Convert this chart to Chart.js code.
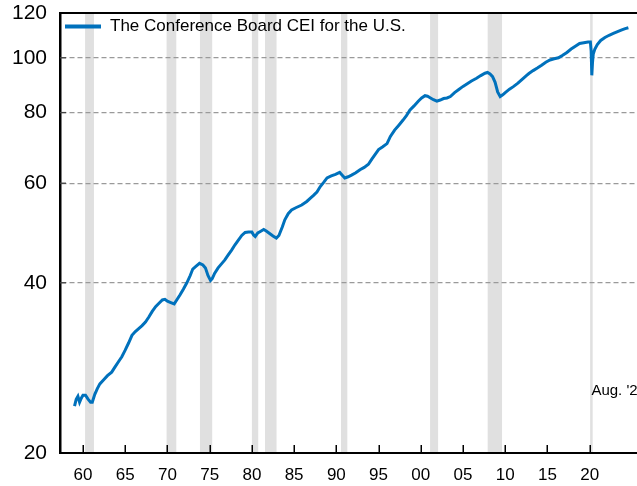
<!DOCTYPE html>
<html>
<head>
<meta charset="utf-8">
<script src="https://cdn.jsdelivr.net/npm/chart.js@4.4.1/dist/chart.umd.min.js"></script>
<style>
  html, body { margin: 0; padding: 0; background: #ffffff; overflow: hidden; }
  #wrap { width: 637px; height: 486px; }
</style>
</head>
<body>
<div id="wrap"><canvas id="c" width="637" height="486"></canvas></div>
<script>
// ---- Data ----
const seriesLabel = 'The Conference Board CEI for the U.S.';
const xYears = [
  1959.0, 1959.2, 1959.4, 1959.6, 1959.8, 1960.0, 1960.3, 1960.6, 1960.9, 1961.1,
  1961.4, 1961.7, 1962.0, 1962.4, 1962.9, 1963.4, 1963.8, 1964.2, 1964.6, 1965.0,
  1965.4, 1965.8, 1966.2, 1966.6, 1967.0, 1967.4, 1967.8, 1968.2, 1968.6, 1969.0,
  1969.4, 1969.7, 1970.0, 1970.4, 1970.8, 1971.1, 1971.5, 1971.9, 1972.3, 1972.7,
  1973.0, 1973.4, 1973.8, 1974.2, 1974.5, 1974.8, 1975.1, 1975.3, 1975.6, 1976.0,
  1976.4, 1976.8, 1977.2, 1977.6, 1978.0, 1978.4, 1978.8, 1979.2, 1979.6, 1980.0,
  1980.2, 1980.4, 1980.7, 1981.0, 1981.4, 1981.7, 1982.1, 1982.5, 1982.9, 1983.2,
  1983.6, 1983.9, 1984.3, 1984.7, 1985.2, 1985.9, 1986.5, 1986.9, 1987.3, 1987.7,
  1988.1, 1988.5, 1988.9, 1989.4, 1989.9, 1990.4, 1990.7, 1991.0, 1991.4, 1991.8,
  1992.3, 1992.8, 1993.3, 1993.8, 1994.2, 1994.6, 1995.0, 1995.5, 1996.0, 1996.4,
  1996.9, 1997.4, 1997.9, 1998.3, 1998.7, 1999.2, 1999.7, 2000.1, 2000.5, 2000.8,
  2001.1, 2001.5, 2001.9, 2002.3, 2002.7, 2003.1, 2003.5, 2004.0, 2004.5, 2005.0,
  2005.5, 2006.0, 2006.6, 2007.1, 2007.6, 2007.9, 2008.2, 2008.5, 2008.8, 2009.1,
  2009.4, 2009.7, 2010.0, 2010.5, 2011.0, 2011.5, 2012.0, 2012.5, 2012.8, 2013.3,
  2013.8, 2014.3, 2014.8, 2015.3, 2015.8, 2016.3, 2016.8, 2017.3, 2017.8, 2018.3,
  2018.8, 2019.3, 2019.8, 2020.08, 2020.17, 2020.25, 2020.33, 2020.42, 2020.6, 2020.9,
  2021.3, 2021.8, 2022.3, 2022.8, 2023.3, 2023.8, 2024.2, 2024.58
];
const ceiValues = [
  24.2, 24.9, 25.2, 24.6, 25.0, 25.3, 25.3, 24.9, 24.6, 24.6,
  25.4, 26.0, 26.5, 26.9, 27.4, 27.8, 28.4, 29.0, 29.6, 30.4,
  31.3, 32.3, 32.8, 33.2, 33.6, 34.1, 34.8, 35.6, 36.3, 36.8,
  37.3, 37.4, 37.1, 36.9, 36.7, 37.3, 38.1, 39.0, 40.0, 41.2,
  42.3, 42.8, 43.3, 43.0, 42.5, 41.2, 40.4, 40.7, 41.6, 42.5,
  43.2, 43.9, 44.8, 45.7, 46.7, 47.6, 48.5, 49.1, 49.2, 49.2,
  48.6, 48.3, 49.0, 49.3, 49.7, 49.4, 48.9, 48.4, 48.0, 48.5,
  50.2, 51.7, 53.0, 53.8, 54.3, 54.9, 55.7, 56.4, 57.1, 57.9,
  59.2, 60.2, 61.3, 61.8, 62.2, 62.7, 62.0, 61.3, 61.6, 62.0,
  62.6, 63.4, 64.0, 64.8, 66.2, 67.5, 68.8, 69.6, 70.5, 72.6,
  74.5, 76.0, 77.6, 79.0, 80.8, 82.2, 83.8, 84.9, 85.7, 85.5,
  85.0, 84.3, 83.8, 84.2, 84.7, 84.9, 85.4, 86.8, 87.9, 89.0,
  90.0, 91.0, 92.0, 93.0, 93.9, 94.2, 93.6, 92.6, 90.5, 87.0,
  85.4, 86.0, 86.8, 88.0, 89.0, 90.2, 91.6, 93.0, 93.8, 94.9,
  95.9, 97.0, 98.2, 99.1, 99.6, 100.0, 101.0, 102.2, 103.6, 104.8,
  106.0, 106.3, 106.6, 106.6, 103.0, 93.1, 98.0, 101.5, 103.5, 105.5,
  107.3, 108.6, 109.6, 110.4, 111.2, 112.0, 112.6, 113.0
];
// Recession shading (decimal years)
const recessionStarts = [1960.25, 1969.9, 1973.85, 1980.0, 1981.55, 1990.55, 2001.1, 2007.92, 2020.05];
const recessionEnds   = [1961.3, 1971.05, 1975.3, 1980.75, 1982.92, 1991.3, 2002.05, 2009.62, 2020.35];
// Axis ticks
const xTickYears  = [1960, 1965, 1970, 1975, 1980, 1985, 1990, 1995, 2000, 2005, 2010, 2015, 2020];
const xTickLabels = ['60', '65', '70', '75', '80', '85', '90', '95', '00', '05', '10', '15', '20'];
const yTickValues = [20, 40, 60, 80, 100, 120];
// Note text
const noteText = "Aug. '24";
const noteX = 2020.2;
const noteY = 25.8;

// ---- Styling ----
const FONT = '"Liberation Sans", Arial, Helvetica, sans-serif';
const lineColor = '#0071bc';

const decorPlugin = {
  id: 'decor',
  beforeDraw(chart) {
    const { ctx, chartArea: a, scales: { x } } = chart;
    ctx.save();
    ctx.fillStyle = '#e0e0e0';
    recessionStarts.forEach((s, i) => {
      const x1 = x.getPixelForValue(s);
      const x2 = x.getPixelForValue(recessionEnds[i]);
      ctx.fillRect(x1, a.top, x2 - x1, a.bottom - a.top);
    });
    ctx.restore();
  },
  afterDraw(chart) {
    const { ctx, chartArea: a, scales: { x, y } } = chart;
    ctx.save();
    // top frame line
    ctx.strokeStyle = '#000';
    ctx.lineWidth = 2;
    ctx.beginPath();
    ctx.moveTo(a.left - 1, a.top);
    ctx.lineTo(a.right, a.top);
    ctx.stroke();
    // inner ticks on x axis
    ctx.lineWidth = 1.5;
    x.ticks.forEach(t => {
      const px = Math.round(x.getPixelForValue(t.value)) + 0.25;
      ctx.beginPath();
      ctx.moveTo(px, a.bottom);
      ctx.lineTo(px, a.bottom - 8);
      ctx.stroke();
    });
    // inner ticks on y axis
    ctx.strokeStyle = '#444';
    ctx.lineWidth = 1.3;
    y.ticks.forEach(t => {
      if (t.value === 20 || t.value === 120) return;
      const py = y.getPixelForValue(t.value);
      ctx.beginPath();
      ctx.moveTo(a.left, py);
      ctx.lineTo(a.left + 6, py);
      ctx.stroke();
    });
    // legend
    ctx.fillStyle = lineColor;
    ctx.fillRect(a.left + 5, a.top + 11.5, 36, 4);
    ctx.fillStyle = '#000';
    ctx.font = '17px ' + FONT;
    ctx.textBaseline = 'middle';
    ctx.textAlign = 'left';
    ctx.fillText(chart.data.datasets[0].label, a.left + 50, a.top + 13.5);
    // note
    ctx.font = '15px ' + FONT;
    ctx.fillText(noteText, x.getPixelForValue(noteX), y.getPixelForValue(noteY));
    ctx.restore();
  }
};

new Chart(document.getElementById('c'), {
  type: 'line',
  data: {
    datasets: [{
      label: seriesLabel,
      data: xYears.map((yr, i) => ({ x: yr, y: ceiValues[i] })),
      borderColor: lineColor,
      backgroundColor: lineColor,
      borderWidth: 3,
      pointRadius: 0,
      tension: 0,
      fill: false
    }]
  },
  options: {
    responsive: false,
    animation: false,
    devicePixelRatio: 1,
    layout: { padding: { left: 0, top: 13, right: 0, bottom: 0 } },
    plugins: {
      legend: { display: false },
      tooltip: { enabled: false }
    },
    scales: {
      x: {
        type: 'linear',
        min: 1957.28,
        max: 2025.6,
        afterBuildTicks(scale) { scale.ticks = xTickYears.map(v => ({ value: v })); },
        afterFit(scale) { scale.height = 33; scale.paddingLeft = 0; scale.paddingRight = 0; },
        ticks: {
          autoSkip: false,
          maxRotation: 0,
          padding: 12,
          color: '#000',
          font: { family: FONT, size: 17 },
          callback(value) {
            const i = xTickYears.indexOf(value);
            return i >= 0 ? xTickLabels[i] : '';
          }
        },
        grid: { display: true, drawOnChartArea: false, drawTicks: false },
        border: { display: true, color: '#000', width: 2 }
      },
      y: {
        type: 'logarithmic',
        min: 20,
        max: 120,
        afterBuildTicks(scale) { scale.ticks = yTickValues.map(v => ({ value: v })); },
        afterFit(scale) { scale.width = 60; scale.paddingTop = 0; scale.paddingBottom = 0; },
        ticks: {
          padding: 13,
          color: '#000',
          font: { family: FONT, size: 21 },
          callback(value) { return String(value); }
        },
        grid: {
          drawTicks: false,
          lineWidth: 1.3,
          color(ctx) {
            const v = ctx.tick && ctx.tick.value;
            return (v === 20 || v === 120) ? 'rgba(0,0,0,0)' : '#9a9a9a';
          }
        },
        border: { display: true, color: '#000', width: 2.5, dash: [5, 3] }
      }
    }
  },
  plugins: [decorPlugin]
});
</script>
</body>
</html>
